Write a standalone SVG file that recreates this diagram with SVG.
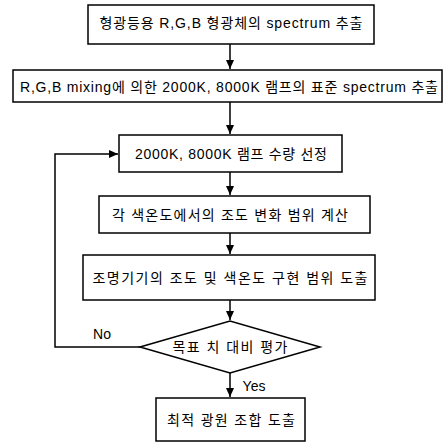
<svg xmlns="http://www.w3.org/2000/svg" width="444" height="444" viewBox="0 0 444 444">
<defs>
<style>
.box{fill:#fff;stroke:#000;stroke-width:1.5}
.t{font-family:"Liberation Sans","Noto Sans CJK KR",sans-serif;font-size:14px;fill:#000;text-anchor:middle;dominant-baseline:central}
.c{fill:none;stroke:#000;stroke-width:1.5}
</style>
<marker id="ah" markerWidth="10" markerHeight="10" refX="9" refY="5" orient="auto" markerUnits="userSpaceOnUse">
<path d="M0,1 L9,5 L0,9 Z" fill="#000"/>
</marker>
</defs>
<rect width="444" height="444" fill="#fff"/>
<g id="connectors">
<line class="c" x1="230" y1="44" x2="230" y2="69" marker-end="url(#ah)"/>
<line class="c" x1="230" y1="102" x2="230" y2="134" marker-end="url(#ah)"/>
<line class="c" x1="230" y1="172" x2="230" y2="195" marker-end="url(#ah)"/>
<line class="c" x1="230" y1="233" x2="230" y2="254" marker-end="url(#ah)"/>
<line class="c" x1="230" y1="300" x2="230" y2="320" marker-end="url(#ah)"/>
<line class="c" x1="230" y1="373" x2="230" y2="397" marker-end="url(#ah)"/>
<polyline class="c" points="140,347 55,347 55,154 118,154" marker-end="url(#ah)"/>
<text class="t" x="102" y="334">No</text>
<text class="t" x="254" y="386">Yes</text>
</g>
<g id="n1"><rect class="box" x="88" y="5" width="286" height="39"/><text class="t" x="231" y="23" textLength="263">형광등용 R,G,B 형광체의 spectrum 추출</text></g>
<g id="n2"><rect class="box" x="13" y="70" width="429" height="32"/><text class="t" x="229" y="87" textLength="418">R,G,B mixing에 의한 2000K, 8000K 램프의 표준 spectrum 추출</text></g>
<g id="n3"><rect class="box" x="119" y="135" width="223" height="37"/><text class="t" x="231" y="154" textLength="192">2000K, 8000K 램프 수량 선정</text></g>
<g id="n4"><rect class="box" x="99" y="196" width="271" height="37"/><text class="t" x="230" y="215" textLength="236">각 색온도에서의 조도 변화 범위 계산</text></g>
<g id="n5"><rect class="box" x="83" y="255" width="292" height="45"/><text class="t" x="230" y="278" textLength="275">조명기기의 조도 및 색온도 구현 범위 도출</text></g>
<g id="n6"><polygon class="box" points="140,347 230,321 320,347 230,373"/><text class="t" x="230" y="347" textLength="115">목표 치 대비 평가</text></g>
<g id="n7"><rect class="box" x="156" y="398" width="149" height="43"/><text class="t" x="231" y="420" textLength="128">최적 광원 조합 도출</text></g>
</svg>
